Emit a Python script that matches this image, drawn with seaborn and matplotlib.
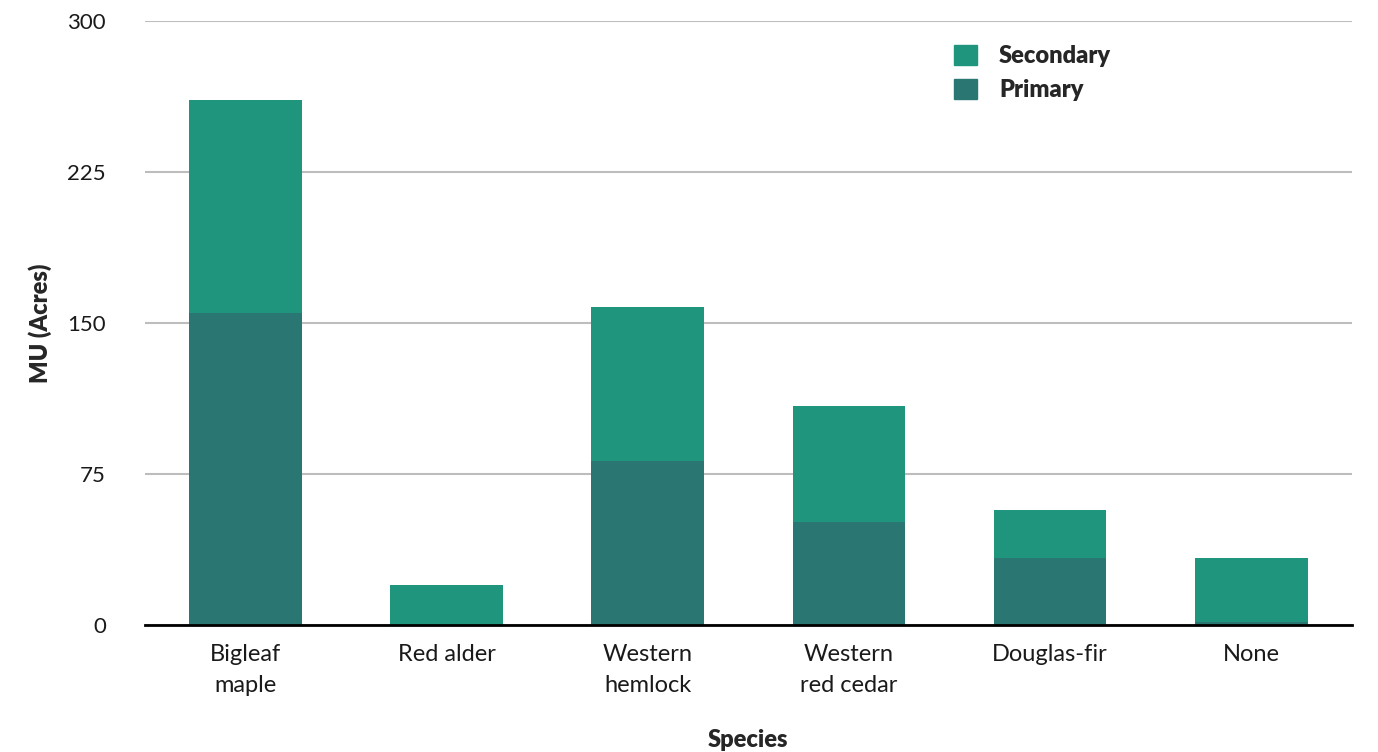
import pandas as pd
import matplotlib
matplotlib.use("Agg")
import matplotlib.pyplot as plt
import seaborn as sns
from matplotlib.patches import Patch

species = ["Bigleaf\nmaple", "Red alder", "Western\nhemlock", "Western\nred cedar", "Douglas-fir", "None"]
primary = [155, 0, 81.5, 51, 33, 1.5]
secondary = [106, 20, 76.5, 58, 24, 31.5]

PRIMARY_COLOR = "#2a7673"
SECONDARY_COLOR = "#20957d"

df = pd.DataFrame({"species": species, "primary": primary, "secondary": secondary})
df["total"] = df["primary"] + df["secondary"]

sns.set_style("white")
plt.rcParams["font.family"] = ["Lato", "DejaVu Sans"]

fig, ax = plt.subplots(figsize=(13.78, 7.52), dpi=100)
fig.subplots_adjust(left=0.105, right=0.981, top=0.972, bottom=0.169)

sns.barplot(data=df, x="species", y="total", color=SECONDARY_COLOR, width=0.56,
            saturation=1, linewidth=0, ax=ax, zorder=3)
sns.barplot(data=df, x="species", y="primary", color=PRIMARY_COLOR, width=0.56,
            saturation=1, linewidth=0, ax=ax, zorder=4)

ax.set_xlim(-0.5, len(species) - 0.5)
ax.set_ylim(0, 300)
ax.set_yticks([0, 75, 150, 225, 300])
ax.yaxis.grid(True, color="#bdbdbd", linewidth=1.5, zorder=0)
ax.set_axisbelow(True)

for side in ["left", "right", "top"]:
    ax.spines[side].set_visible(False)
ax.spines["bottom"].set_color("black")
ax.spines["bottom"].set_linewidth(2)
ax.spines["bottom"].set_zorder(5)

ax.tick_params(axis="y", length=0, pad=28, labelsize=16, labelcolor="#1a1a1a")
ax.tick_params(axis="x", length=0, pad=14, labelsize=17, labelcolor="#1a1a1a")
for lab in ax.get_xticklabels():
    lab.set_linespacing(1.55)

ax.set_xlabel("Species", fontsize=17, fontweight="heavy", labelpad=24)
ax.set_ylabel("MU (Acres)", fontsize=17, fontweight="heavy")
ax.yaxis.set_label_coords(-0.077, 0.5)

handles = [Patch(color=SECONDARY_COLOR, label="Secondary"),
           Patch(color=PRIMARY_COLOR, label="Primary")]
leg = ax.legend(handles=handles, loc="upper left", bbox_to_anchor=(0.653, 0.996),
                frameon=False, handlelength=0.95, handleheight=0.95,
                handletextpad=0.95, labelspacing=0.5,
                prop={"size": 17, "weight": "heavy"})

fig.savefig("out.png", dpi=100)
